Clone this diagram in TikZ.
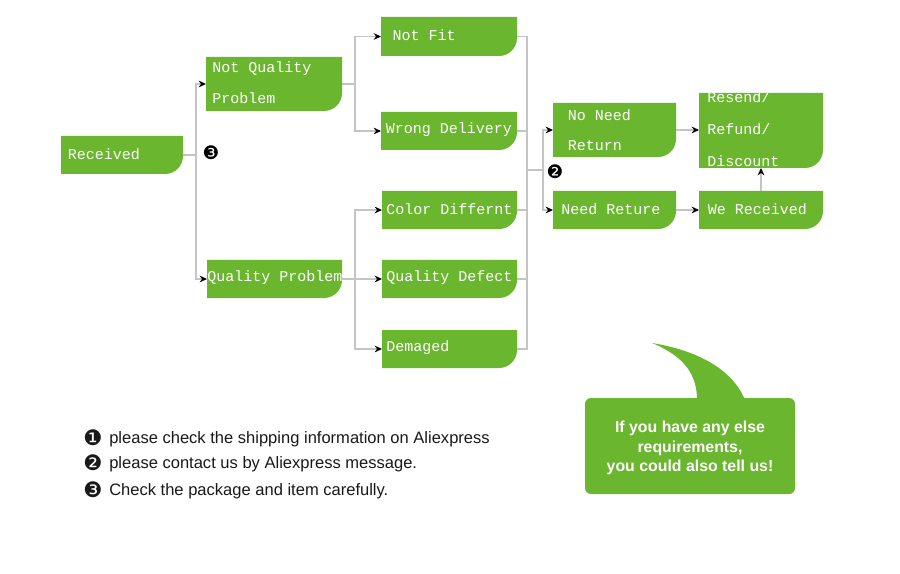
\documentclass[tikz,border=0pt]{standalone}
\usepackage{fontspec}
\setmainfont{Liberation Sans}
\newfontfamily\boxfont{Liberation Mono}
\newfontfamily\symfont{DejaVu Sans}
\usetikzlibrary{arrows.meta,fit}
\definecolor{gfill}{RGB}{106,182,46}
\definecolor{lgrey}{RGB}{196,196,196}
\definecolor{legblack}{RGB}{25,25,25}

\tikzset{
  btxt/.style={text=white, font=\boxfont\fontsize{11.25}{23}\selectfont, inner sep=0pt, align=left, anchor=west},
  line/.style={draw=lgrey, line width=0.8pt},
  arr/.style={line, -{Stealth[black,length=5.5pt,width=5pt]}},
  numtag/.style={font=\symfont\fontsize{14}{14}\selectfont, inner sep=0pt},
  legnum/.style={font=\symfont\fontsize{16}{16}\selectfont, inner sep=0pt, text=legblack},
  legtxt/.style={font=\fontsize{12.4}{14}\selectfont, text=legblack, inner sep=0pt, anchor=base west},
  bubtxt/.style={text=white, font=\bfseries\fontsize{11.9}{14.5}\selectfont, align=center, inner sep=0pt},
}

\newcommand\bpath[4]{(#1,#2) -- (#3,#2) -- (#3,#4-18) arc[start angle=0,end angle=-90,radius=13.5pt] -- (#1,#4) -- cycle}
\newcommand\gbox[5]{%
  \fill[gfill] \bpath{#2}{#3}{#4}{#5};
  \node[fit={(#2,#3) (#4,#5)}, inner sep=0pt, outer sep=0pt] (#1) {};
}

\begin{document}
\begin{tikzpicture}[x=0.75pt,y=-0.75pt]
\useasboundingbox (0,0) rectangle (900,574);
\fill[white] (0,0) rectangle (900,574);

% boxes
\gbox{rec}{61}{136}{183}{174}
\gbox{nqp}{206}{57}{342}{111}
\gbox{qp}{207}{260}{342}{298}
\gbox{nf}{381}{17}{517}{56}
\gbox{wd}{381}{112}{517}{150}
\gbox{cd}{382}{191}{517}{229}
\gbox{qd}{382}{260}{517}{298}
\gbox{dm}{382}{330}{517}{368}
\gbox{nnr}{553}{103}{676}{157}
\gbox{nr}{553}{191}{676}{229}
\gbox{res}{699}{93}{823}{168}
\gbox{wr}{699}{191}{823}{229}

% box texts
\node[btxt] (rec-t) at ([xshift=5pt,yshift=1pt]rec.west) {Received};
\node[btxt] (nqp-t) at ([xshift=4.5pt,yshift=1pt]nqp.west) {Not Quality\\Problem};
\node[btxt] (qp-t) at ([xshift=0pt,yshift=1pt]qp.west) {Quality Problem};
\node[btxt] (nf-t) at ([xshift=8.5pt,yshift=1pt]nf.west) {Not Fit};
\node[btxt] (wd-t) at ([xshift=3.5pt,yshift=1pt]wd.west) {Wrong Delivery};
\node[btxt] (cd-t) at ([xshift=3pt,yshift=1pt]cd.west) {Color Differnt};
\node[btxt] (qd-t) at ([xshift=3pt,yshift=1pt]qd.west) {Quality Defect};
\node[btxt] (dm-t) at ([xshift=3pt,yshift=1pt]dm.west) {Demaged};
\node[btxt] (nnr-t) at ([xshift=11pt]nnr.west) {No Need\\Return};
\node[btxt] (nr-t) at ([xshift=6pt,yshift=1pt]nr.west) {Need Reture};
\node[btxt] (wr-t) at ([xshift=6.5pt,yshift=1pt]wr.west) {We Received};
\begin{scope}
  \clip \bpath{699}{93}{823}{168};
  \node[btxt, font=\boxfont\fontsize{11.25}{24}\selectfont] (res-t) at ([xshift=6pt,yshift=1pt]res.west) {Resend/\\Refund/\\Discount};
\end{scope}

% connectors
\coordinate (m) at (527,170);
\draw[arr] (rec.east) -- ++(13,0) |- (nqp.west);
\draw[arr] (rec.east) -- ++(13,0) |- (qp.west);
\draw[arr] (nqp.east) -- ++(13,0) |- (nf.west);
\draw[arr] (nqp.east) -- ++(13,0) |- (wd.west);
\draw[arr] (qp.east) -- ++(13,0) |- (cd.west);
\draw[arr] (qp.east) -- (qd.west);
\draw[arr] (qp.east) -- ++(13,0) |- (dm.west);
\foreach \n in {nf,wd,cd,qd,dm} {\draw[line] (\n.east) -| (m);}
\draw[arr] (m) -- ++(16,0) |- (nnr.west);
\draw[arr] (m) -- ++(16,0) |- (nr.west);
\draw[arr] (nnr.east) -- (nnr.east -| res.west);
\draw[arr] (nr.east) -- (wr.west);
\draw[arr] (wr.north) -- (res.south);

\node[numtag] (n3) at (211,153) {❸};
\node[numtag] (n2) at (555,172) {❷};

% speech bubble
\fill[gfill] (652,343) .. controls (695,350) and (732,368) .. (745,400)
   -- (697,400) .. controls (697,376) and (686,357) .. (652,343) -- cycle;
\fill[gfill, rounded corners=4.5pt] (585,398) rectangle (795,494);
\node[bubtxt] (bub) at (690,448) {If you have any else\\requirements,\\you could also tell us!};

% legend
\node[legnum] (l1) at (93,438) {❶};
\node[legnum] (l2) at (93,463) {❷};
\node[legnum] (l3) at (93,490) {❸};
\node[legtxt] (l1t) at (109,443.5) {please check the shipping information on Aliexpress};
\node[legtxt] (l2t) at (109,468) {please contact us by Aliexpress message.};
\node[legtxt] (l3t) at (109,495.5) {Check the package and item carefully.};
\end{tikzpicture}
\end{document}
